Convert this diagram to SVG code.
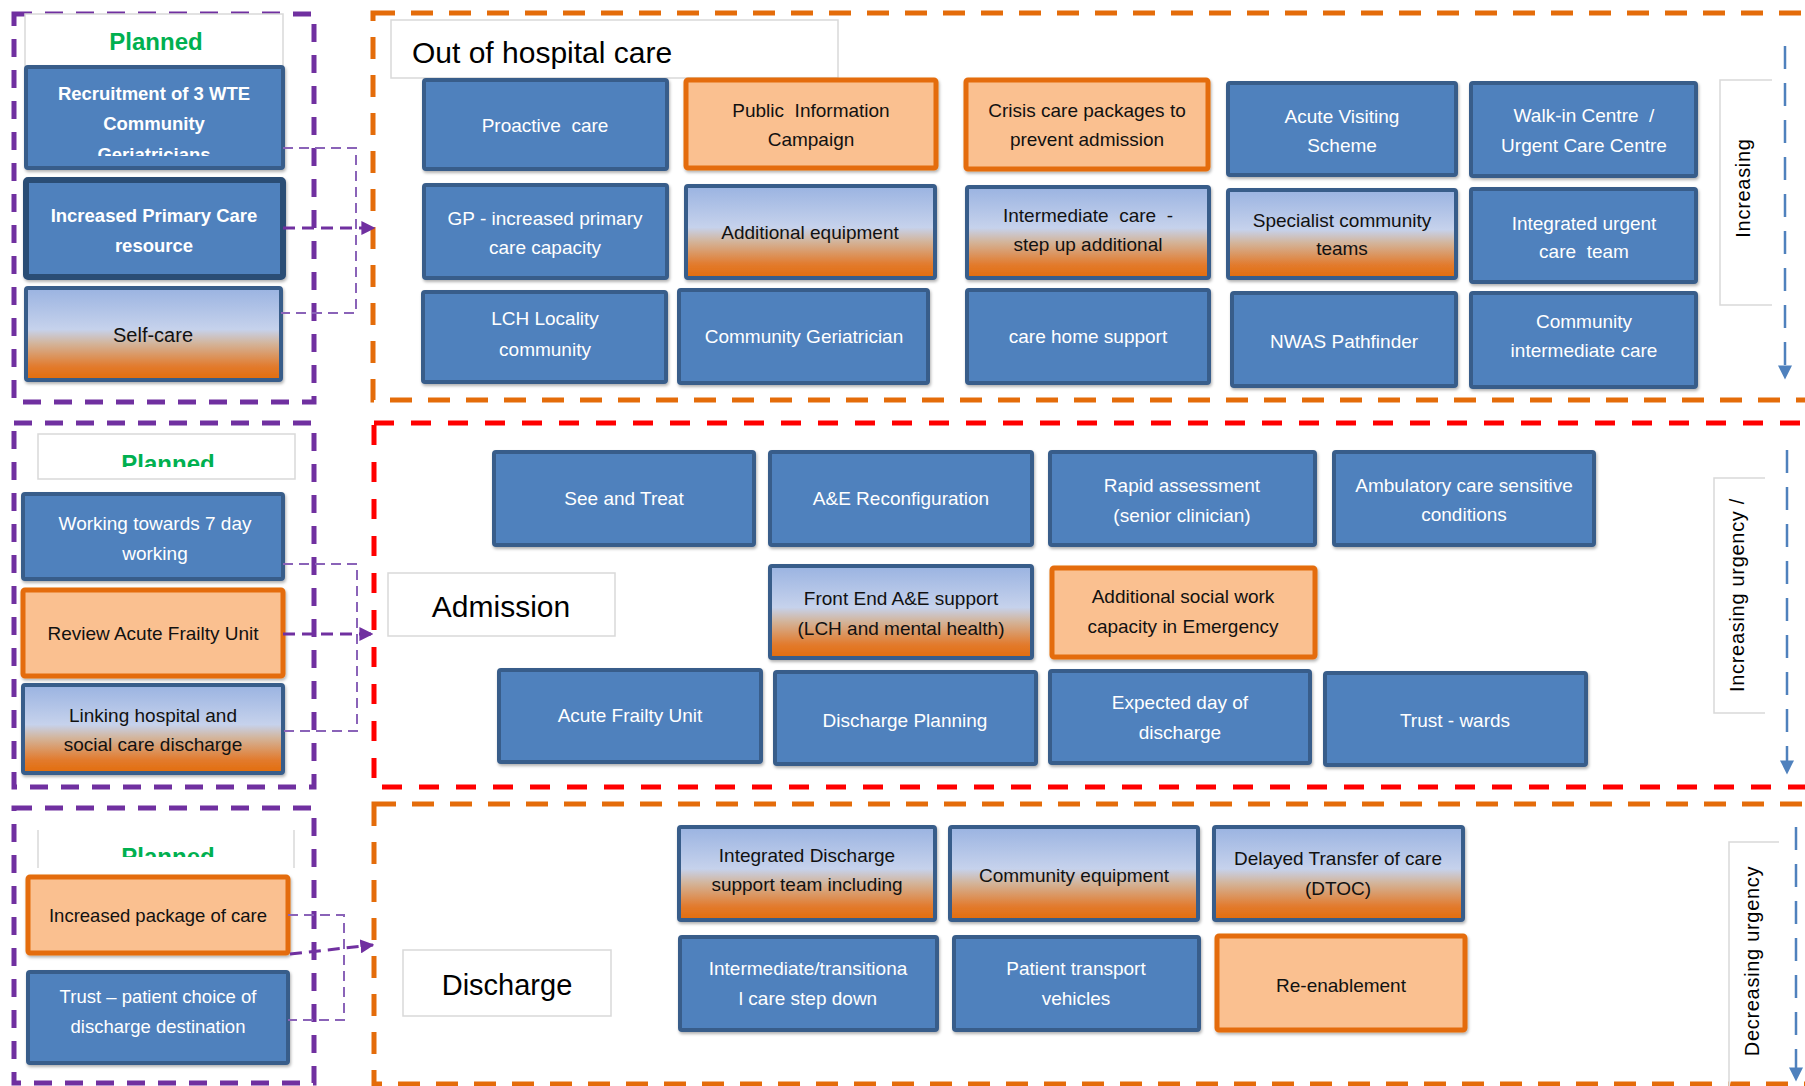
<svg xmlns="http://www.w3.org/2000/svg" width="1805" height="1086" viewBox="0 0 1805 1086">
  <style>
    text { font-family: "Liberation Sans", Arial, sans-serif; text-anchor: middle; white-space: pre; }
    .blue { fill: #4F81BD; stroke: #385D8A; stroke-width: 4; filter: url(#sh); }
    .blue-dark { fill: #4F81BD; stroke: #2C4D75; stroke-width: 6; filter: url(#sh); }
    .orange { fill: #FAC090; stroke: #E46C0A; stroke-width: 5; filter: url(#sh); }
    .grad { fill: url(#fade); stroke: #385D8A; stroke-width: 4; filter: url(#sh); }
    .tw { fill: #FFFFFF; font-size: 19px; }
    .tk { fill: #111111; font-size: 19px; }
    .twb { fill: #FFFFFF; font-size: 18.5px; font-weight: bold; }
    .label { fill: #FFFFFF; stroke: #D9D9D9; stroke-width: 1.5; }
    .title { fill: #000000; font-size: 30px; }
    .planned { fill: #00B050; font-size: 24px; font-weight: bold; }
    .frame-purple { fill: none; stroke: #7030A0; stroke-width: 5; stroke-dasharray: 18 13; }
    .frame-orange { fill: none; stroke: #E46C0A; stroke-width: 5; stroke-dasharray: 22 16; }
    .frame-red { fill: none; stroke: #FF0000; stroke-width: 5; stroke-dasharray: 20 17; }
    .link-thin { fill: none; stroke: #8A63B8; stroke-width: 2; stroke-dasharray: 10 6; }
    .link-main { fill: none; stroke: #7030A0; stroke-width: 3; stroke-dasharray: 12 7; marker-end: url(#arrow-purple); }
    .scale { fill: none; stroke: #4F81BD; stroke-width: 2.5; stroke-dasharray: 23 14; marker-end: url(#arrow-blue); }
    .vbox { fill: #FFFFFF; stroke: #D9D9D9; stroke-width: 1.5; }
    .vtext { fill: #000000; font-size: 20px; letter-spacing: 0.7px; }
  </style>
  <defs>
    <linearGradient id="fade" x1="0" y1="0" x2="0" y2="1">
      <stop offset="0" stop-color="#9AB3E1"/>
      <stop offset="0.45" stop-color="#C6D2EC"/>
      <stop offset="0.6" stop-color="#D3B59C"/>
      <stop offset="0.85" stop-color="#E27B2E"/>
      <stop offset="1" stop-color="#E36C0A"/>
    </linearGradient>
    <filter id="sh" x="-5%" y="-5%" width="115%" height="125%">
      <feDropShadow dx="1" dy="2" stdDeviation="1.5" flood-color="#000000" flood-opacity="0.3"/>
    </filter>
    <marker id="arrow-purple" viewBox="0 0 10 10" refX="9" refY="5" markerWidth="14" markerHeight="14" markerUnits="userSpaceOnUse" orient="auto">
      <path d="M0,0 L10,5 L0,10 z" fill="#7030A0"/>
    </marker>
    <marker id="arrow-blue" viewBox="0 0 10 10" refX="9" refY="5" markerWidth="16" markerHeight="14" markerUnits="userSpaceOnUse" orient="auto">
      <path d="M0,0 L10,5 L0,10 z" fill="#4F81BD"/>
    </marker>
    <clipPath id="clip-recruit"><rect x="26" y="67" width="257" height="89"/></clipPath>
    <clipPath id="clip-planned2"><rect x="38" y="434" width="257" height="33"/></clipPath>
    <clipPath id="clip-planned3"><rect x="38" y="830" width="257" height="27"/></clipPath>
  </defs>

  <rect width="1805" height="1086" fill="#FFFFFF"/>

  <!-- dashed grouping frames -->
  <g id="frames">
    <rect class="frame-purple" x="14" y="14" width="300" height="388"/>
    <rect class="frame-purple" x="14" y="423" width="300" height="364"/>
    <rect class="frame-purple" x="14" y="808" width="300" height="275"/>
    <rect class="frame-orange" x="373" y="13" width="1460" height="387"/>
    <rect class="frame-red" x="374" y="423" width="1460" height="364"/>
    <rect class="frame-orange" x="374" y="804" width="1460" height="280"/>
  </g>

  <!-- section labels -->
  <g id="label-planned-1">
    <rect class="label" x="25" y="14" width="258" height="53"/>
    <text class="planned" x="156" y="50">Planned</text>
  </g>
  <g id="label-planned-2">
    <rect class="label" x="38" y="434" width="257" height="45"/>
    <text class="planned" x="168" y="472" clip-path="url(#clip-planned2)">Planned</text>
  </g>
  <g id="label-planned-3">
    <path d="M38,830 V868 M294,830 V868" fill="none" stroke="#D9D9D9" stroke-width="1.5"/>
    <text class="planned" x="168" y="865" clip-path="url(#clip-planned3)">Planned</text>
  </g>
  <g id="label-out-of-hospital">
    <rect class="label" x="391" y="20" width="447" height="58"/>
    <text class="title" x="412" y="63" style="text-anchor:start">Out of hospital care</text>
  </g>
  <g id="label-admission">
    <rect class="label" x="388" y="573" width="227" height="63"/>
    <text class="title" x="501" y="617">Admission</text>
  </g>
  <g id="label-discharge">
    <rect class="label" x="403" y="950" width="208" height="66"/>
    <text class="title" x="507" y="995" style="font-size:29px">Discharge</text>
  </g>

  <!-- planned schemes (left column) -->
  <g id="n-recruit">
    <rect class="blue" x="26" y="67" width="257" height="101" rx="2"/>
    <g clip-path="url(#clip-recruit)">
      <text class="twb" x="154" y="100">Recruitment of 3 WTE</text>
      <text class="twb" x="154" y="130">Community</text>
      <text class="twb" x="154" y="161">Geriatricians</text>
    </g>
  </g>
  <g id="n-primary-care">
    <rect class="blue-dark" x="26" y="180" width="257" height="97" rx="2"/>
    <text class="twb" x="154" y="222">Increased Primary Care</text>
    <text class="twb" x="154" y="252">resource</text>
  </g>
  <g id="n-self-care">
    <rect class="grad" x="26" y="288" width="255" height="92" rx="2"/>
    <text class="tk" x="153" y="342" style="font-size:20px">Self-care</text>
  </g>
  <g id="n-seven-day">
    <rect class="blue" x="23" y="494" width="260" height="85" rx="2"/>
    <text class="tw" x="155" y="530">Working towards 7 day</text>
    <text class="tw" x="155" y="560">working</text>
  </g>
  <g id="n-review-afu">
    <rect class="orange" x="23" y="590" width="260" height="86" rx="2"/>
    <text class="tk" x="153" y="640">Review Acute Frailty Unit</text>
  </g>
  <g id="n-linking">
    <rect class="grad" x="23" y="685" width="260" height="88" rx="2"/>
    <text class="tk" x="153" y="722">Linking hospital and</text>
    <text class="tk" x="153" y="751">social care discharge</text>
  </g>
  <g id="n-package">
    <rect class="orange" x="28" y="877" width="260" height="76" rx="2"/>
    <text class="tk" x="158" y="922" style="font-size:18.5px">Increased package of care</text>
  </g>
  <g id="n-patient-choice">
    <rect class="blue" x="28" y="972" width="260" height="91" rx="2"/>
    <text class="tw" x="158" y="1003" style="font-size:18.5px">Trust – patient choice of</text>
    <text class="tw" x="158" y="1033" style="font-size:18.5px">discharge destination</text>
  </g>

  <!-- out of hospital care -->
  <g id="n-proactive">
    <rect class="blue" x="424" y="80" width="243" height="89" rx="2"/>
    <text class="tw" x="545" y="132">Proactive  care</text>
  </g>
  <g id="n-public-info">
    <rect class="orange" x="686" y="80" width="250" height="88" rx="2"/>
    <text class="tk" x="811" y="117">Public  Information</text>
    <text class="tk" x="811" y="146">Campaign</text>
  </g>
  <g id="n-crisis">
    <rect class="orange" x="966" y="80" width="242" height="89" rx="2"/>
    <text class="tk" x="1087" y="117">Crisis care packages to</text>
    <text class="tk" x="1087" y="146">prevent admission</text>
  </g>
  <g id="n-acute-visiting">
    <rect class="blue" x="1228" y="83" width="228" height="92" rx="2"/>
    <text class="tw" x="1342" y="123">Acute Visiting</text>
    <text class="tw" x="1342" y="152">Scheme</text>
  </g>
  <g id="n-walk-in">
    <rect class="blue" x="1471" y="83" width="225" height="93" rx="2"/>
    <text class="tw" x="1584" y="122">Walk-in Centre  /</text>
    <text class="tw" x="1584" y="152">Urgent Care Centre</text>
  </g>
  <g id="n-gp">
    <rect class="blue" x="424" y="185" width="243" height="93" rx="2"/>
    <text class="tw" x="545" y="225">GP - increased primary</text>
    <text class="tw" x="545" y="254">care capacity</text>
  </g>
  <g id="n-additional-equipment">
    <rect class="grad" x="686" y="186" width="249" height="92" rx="2"/>
    <text class="tk" x="810" y="239">Additional equipment</text>
  </g>
  <g id="n-step-up">
    <rect class="grad" x="967" y="187" width="242" height="91" rx="2"/>
    <text class="tk" x="1088" y="222">Intermediate  care  -</text>
    <text class="tk" x="1088" y="251">step up additional</text>
  </g>
  <g id="n-specialist">
    <rect class="grad" x="1228" y="190" width="228" height="88" rx="2"/>
    <text class="tk" x="1342" y="227">Specialist community</text>
    <text class="tk" x="1342" y="255">teams</text>
  </g>
  <g id="n-integrated-urgent">
    <rect class="blue" x="1471" y="189" width="225" height="93" rx="2"/>
    <text class="tw" x="1584" y="230">Integrated urgent</text>
    <text class="tw" x="1584" y="258">care  team</text>
  </g>
  <g id="n-lch-locality">
    <rect class="blue" x="423" y="292" width="243" height="90" rx="2"/>
    <text class="tw" x="545" y="325">LCH Locality</text>
    <text class="tw" x="545" y="356">community</text>
  </g>
  <g id="n-community-geriatrician">
    <rect class="blue" x="679" y="290" width="249" height="93" rx="2"/>
    <text class="tw" x="804" y="343">Community Geriatrician</text>
  </g>
  <g id="n-care-home">
    <rect class="blue" x="967" y="290" width="242" height="93" rx="2"/>
    <text class="tw" x="1088" y="343">care home support</text>
  </g>
  <g id="n-nwas">
    <rect class="blue" x="1232" y="293" width="224" height="93" rx="2"/>
    <text class="tw" x="1344" y="348">NWAS Pathfinder</text>
  </g>
  <g id="n-community-intermediate">
    <rect class="blue" x="1471" y="293" width="225" height="94" rx="2"/>
    <text class="tw" x="1584" y="328">Community</text>
    <text class="tw" x="1584" y="357">intermediate care</text>
  </g>

  <!-- admission -->
  <g id="n-see-treat">
    <rect class="blue" x="494" y="452" width="260" height="93" rx="2"/>
    <text class="tw" x="624" y="505">See and Treat</text>
  </g>
  <g id="n-ae-reconfig">
    <rect class="blue" x="770" y="452" width="262" height="93" rx="2"/>
    <text class="tw" x="901" y="505">A&amp;E Reconfiguration</text>
  </g>
  <g id="n-rapid">
    <rect class="blue" x="1050" y="452" width="265" height="93" rx="2"/>
    <text class="tw" x="1182" y="492">Rapid assessment</text>
    <text class="tw" x="1182" y="522">(senior clinician)</text>
  </g>
  <g id="n-ambulatory">
    <rect class="blue" x="1334" y="452" width="260" height="93" rx="2"/>
    <text class="tw" x="1464" y="492">Ambulatory care sensitive</text>
    <text class="tw" x="1464" y="521">conditions</text>
  </g>
  <g id="n-front-end">
    <rect class="grad" x="770" y="566" width="262" height="92" rx="2"/>
    <text class="tk" x="901" y="605">Front End A&amp;E support</text>
    <text class="tk" x="901" y="635">(LCH and mental health)</text>
  </g>
  <g id="n-social-work">
    <rect class="orange" x="1052" y="568" width="263" height="89" rx="2"/>
    <text class="tk" x="1183" y="603">Additional social work</text>
    <text class="tk" x="1183" y="633">capacity in Emergency</text>
  </g>
  <g id="n-afu">
    <rect class="blue" x="499" y="670" width="262" height="92" rx="2"/>
    <text class="tw" x="630" y="722">Acute Frailty Unit</text>
  </g>
  <g id="n-discharge-planning">
    <rect class="blue" x="775" y="672" width="261" height="92" rx="2"/>
    <text class="tw" x="905" y="727">Discharge Planning</text>
  </g>
  <g id="n-edd">
    <rect class="blue" x="1050" y="671" width="260" height="92" rx="2"/>
    <text class="tw" x="1180" y="709">Expected day of</text>
    <text class="tw" x="1180" y="739">discharge</text>
  </g>
  <g id="n-trust-wards">
    <rect class="blue" x="1325" y="673" width="261" height="92" rx="2"/>
    <text class="tw" x="1455" y="727">Trust - wards</text>
  </g>

  <!-- discharge -->
  <g id="n-integrated-discharge">
    <rect class="grad" x="679" y="827" width="256" height="93" rx="2"/>
    <text class="tk" x="807" y="862">Integrated Discharge</text>
    <text class="tk" x="807" y="891">support team including</text>
  </g>
  <g id="n-community-equipment">
    <rect class="grad" x="950" y="827" width="248" height="93" rx="2"/>
    <text class="tk" x="1074" y="882">Community equipment</text>
  </g>
  <g id="n-dtoc">
    <rect class="grad" x="1214" y="827" width="249" height="93" rx="2"/>
    <text class="tk" x="1338" y="865">Delayed Transfer of care</text>
    <text class="tk" x="1338" y="895">(DTOC)</text>
  </g>
  <g id="n-step-down">
    <rect class="blue" x="680" y="937" width="257" height="93" rx="2"/>
    <text class="tw" x="808" y="975">Intermediate/transitiona</text>
    <text class="tw" x="808" y="1005">l care step down</text>
  </g>
  <g id="n-transport">
    <rect class="blue" x="954" y="937" width="245" height="93" rx="2"/>
    <text class="tw" x="1076" y="975">Patient transport</text>
    <text class="tw" x="1076" y="1005">vehicles</text>
  </g>
  <g id="n-reenablement">
    <rect class="orange" x="1217" y="936" width="248" height="94" rx="2"/>
    <text class="tk" x="1341" y="992">Re-enablement</text>
  </g>

  <!-- urgency scale labels -->
  <g id="v-increasing">
    <path class="vbox" d="M1772,80 H1720 V305 H1772"/>
    <text class="vtext" transform="translate(1750,188) rotate(-90)">Increasing</text>
  </g>
  <g id="v-increasing-urgency">
    <path class="vbox" d="M1765,478 H1714 V713 H1765"/>
    <text class="vtext" transform="translate(1744,595) rotate(-90)">Increasing urgency /</text>
  </g>
  <g id="v-decreasing-urgency">
    <path class="vbox" d="M1779,842 H1729 V1090"/>
    <text class="vtext" transform="translate(1759,961) rotate(-90)">Decreasing urgency</text>
  </g>

  <!-- connectors -->
  <g id="connectors">
    <path class="link-thin" d="M283,148 H356 V313 H281"/>
    <path class="link-main" d="M283,228 H374"/>
    <path class="link-thin" d="M283,564 H357 V731 H283"/>
    <path class="link-main" d="M283,634 H372"/>
    <path class="link-thin" d="M288,915 H344 V1020 H288"/>
    <path class="link-main" d="M290,954 L373,945"/>
    <path class="scale" d="M1785,46 V378"/>
    <path class="scale" d="M1787,450 V773"/>
    <path class="scale" d="M1796,827 V1080"/>
  </g>
</svg>
